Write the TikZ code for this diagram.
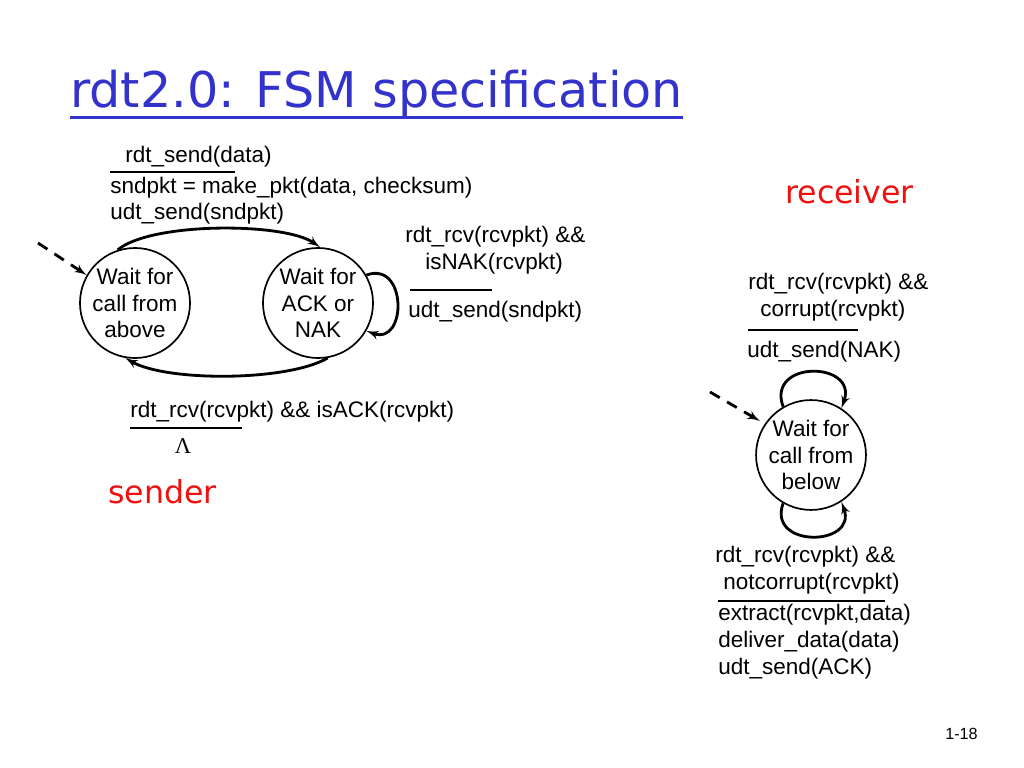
\documentclass[tikz,border=0pt]{standalone}
\usepackage{fontspec}
\setmainfont{Liberation Sans}
\newfontfamily\slidefont{DejaVu Sans}
\newfontfamily\lambdafont{Liberation Serif}
\usepackage{tikz}
\usetikzlibrary{arrows}
\definecolor{titleblue}{RGB}{51,51,204}
\definecolor{rolered}{RGB}{240,16,16}
\tikzstyle{trans} = [draw, -{latex'}, line width=2pt]
\tikzstyle{init} = [draw, -{latex'}, line width=2pt, dash pattern=on 8pt off 6pt]
\tikzstyle{bar} = [draw, line width=2pt]
\tikzstyle{fsmstate} = [draw, circle, line width=1.2pt, minimum size=2.75cm, align=center]

\begin{document}
\begin{tikzpicture}[x=0.025cm, y=-0.025cm]
	\tikzstyle{every node}=[font=\fontsize{16}{19}\selectfont, inner sep=0pt]
	\useasboundingbox (0,0) rectangle (1024,768);

	% ------------------- Title ------------------- %
	\node[anchor=base west, text=titleblue, font=\slidefont\fontsize{35}{42}\selectfont] (title) at (70,108) {rdt2.0: FSM specification};
	\draw[titleblue, line width=2pt] ([yshift=-7pt]title.base west) -- ([yshift=-7pt]title.base east);

	% ------------------- Sender states ------------------- %
	\node[fsmstate] (waitcall) at (135,303) {Wait for\\call from\\above};
	\node[fsmstate] (waitack) at (318,303) {Wait for\\ACK or\\NAK};

	\coordinate (sndinit) at (38,243);
	\draw[init] (sndinit) -- (waitcall.150);

	\draw[trans] (waitcall.108) to[out=40,in=145,looseness=0.55] (waitack.88);
	\draw[trans] (waitack.-80) to[out=-150,in=-30,looseness=0.6] (waitcall.-100);
	\draw[trans] (waitack.30) to[out=20,in=-20,looseness=2] (waitack.-30);

	% ------------------- Sender labels ------------------- %
	\node[anchor=west] (sendev) at (125,157) {rdt\_send(data)};
	\draw[bar] (110,172) -- (235,172);
	\node[anchor=west] (sendmk) at (110,188) {sndpkt = make\_pkt(data, checksum)};
	\node[anchor=west] (sendudt) at (110,214) {udt\_send(sndpkt)};

	\node[anchor=west] (nakev) at (405,237) {rdt\_rcv(rcvpkt) \&\&};
	\node[anchor=west] (nakis) at (425,264) {isNAK(rcvpkt)};
	\draw[bar] (410,290) -- (492,290);
	\node[anchor=west] (nakudt) at (408,312) {udt\_send(sndpkt)};

	\node[anchor=west] (ackev) at (130,412) {rdt\_rcv(rcvpkt) \&\& isACK(rcvpkt)};
	\draw[bar] (130,428) -- (242,428);
	\node[font=\lambdafont\fontsize{16}{19}\selectfont] (acklam) at (183,446) {Λ};

	\node[anchor=west, text=rolered, font=\slidefont\fontsize{22.5}{27}\selectfont] (sender) at (108,492) {sender};

	% ------------------- Receiver ------------------- %
	\node[anchor=west, text=rolered, font=\slidefont\fontsize{22.5}{27}\selectfont] (receiver) at (785,192) {receiver};

	\node[fsmstate, minimum size=2.7cm] (waitbelow) at (811,455) {Wait for\\call from\\below};

	\coordinate (rcvinit) at (710,392);
	\draw[init, shorten >=4pt] (rcvinit) -- (waitbelow.146);

	\draw[trans] (waitbelow.120) to[out=110,in=70,looseness=2.2] (waitbelow.57);
	\draw[trans] (waitbelow.-120) to[out=-110,in=-70,looseness=2.1] (waitbelow.-57);

	\node[anchor=west] (corev) at (748,284) {rdt\_rcv(rcvpkt) \&\&};
	\node[anchor=west] (corcor) at (760,311) {corrupt(rcvpkt)};
	\draw[bar] (748,330) -- (858,330);
	\node[anchor=west] (corudt) at (747,352) {udt\_send(NAK)};

	\node[anchor=west] (okev) at (715,557) {rdt\_rcv(rcvpkt) \&\&};
	\node[anchor=west] (oknot) at (723,584) {notcorrupt(rcvpkt)};
	\draw[bar] (718,601) -- (885,601);
	\node[anchor=west] (okext) at (718,615) {extract(rcvpkt,data)};
	\node[anchor=west] (okdel) at (718,642) {deliver\_data(data)};
	\node[anchor=west] (okudt) at (718,669) {udt\_send(ACK)};

	% ------------------- Page number ------------------- %
	\node[anchor=west, font=\fontsize{11.5}{14}\selectfont] (pagenum) at (945,734) {1-18};
\end{tikzpicture}
\end{document}
